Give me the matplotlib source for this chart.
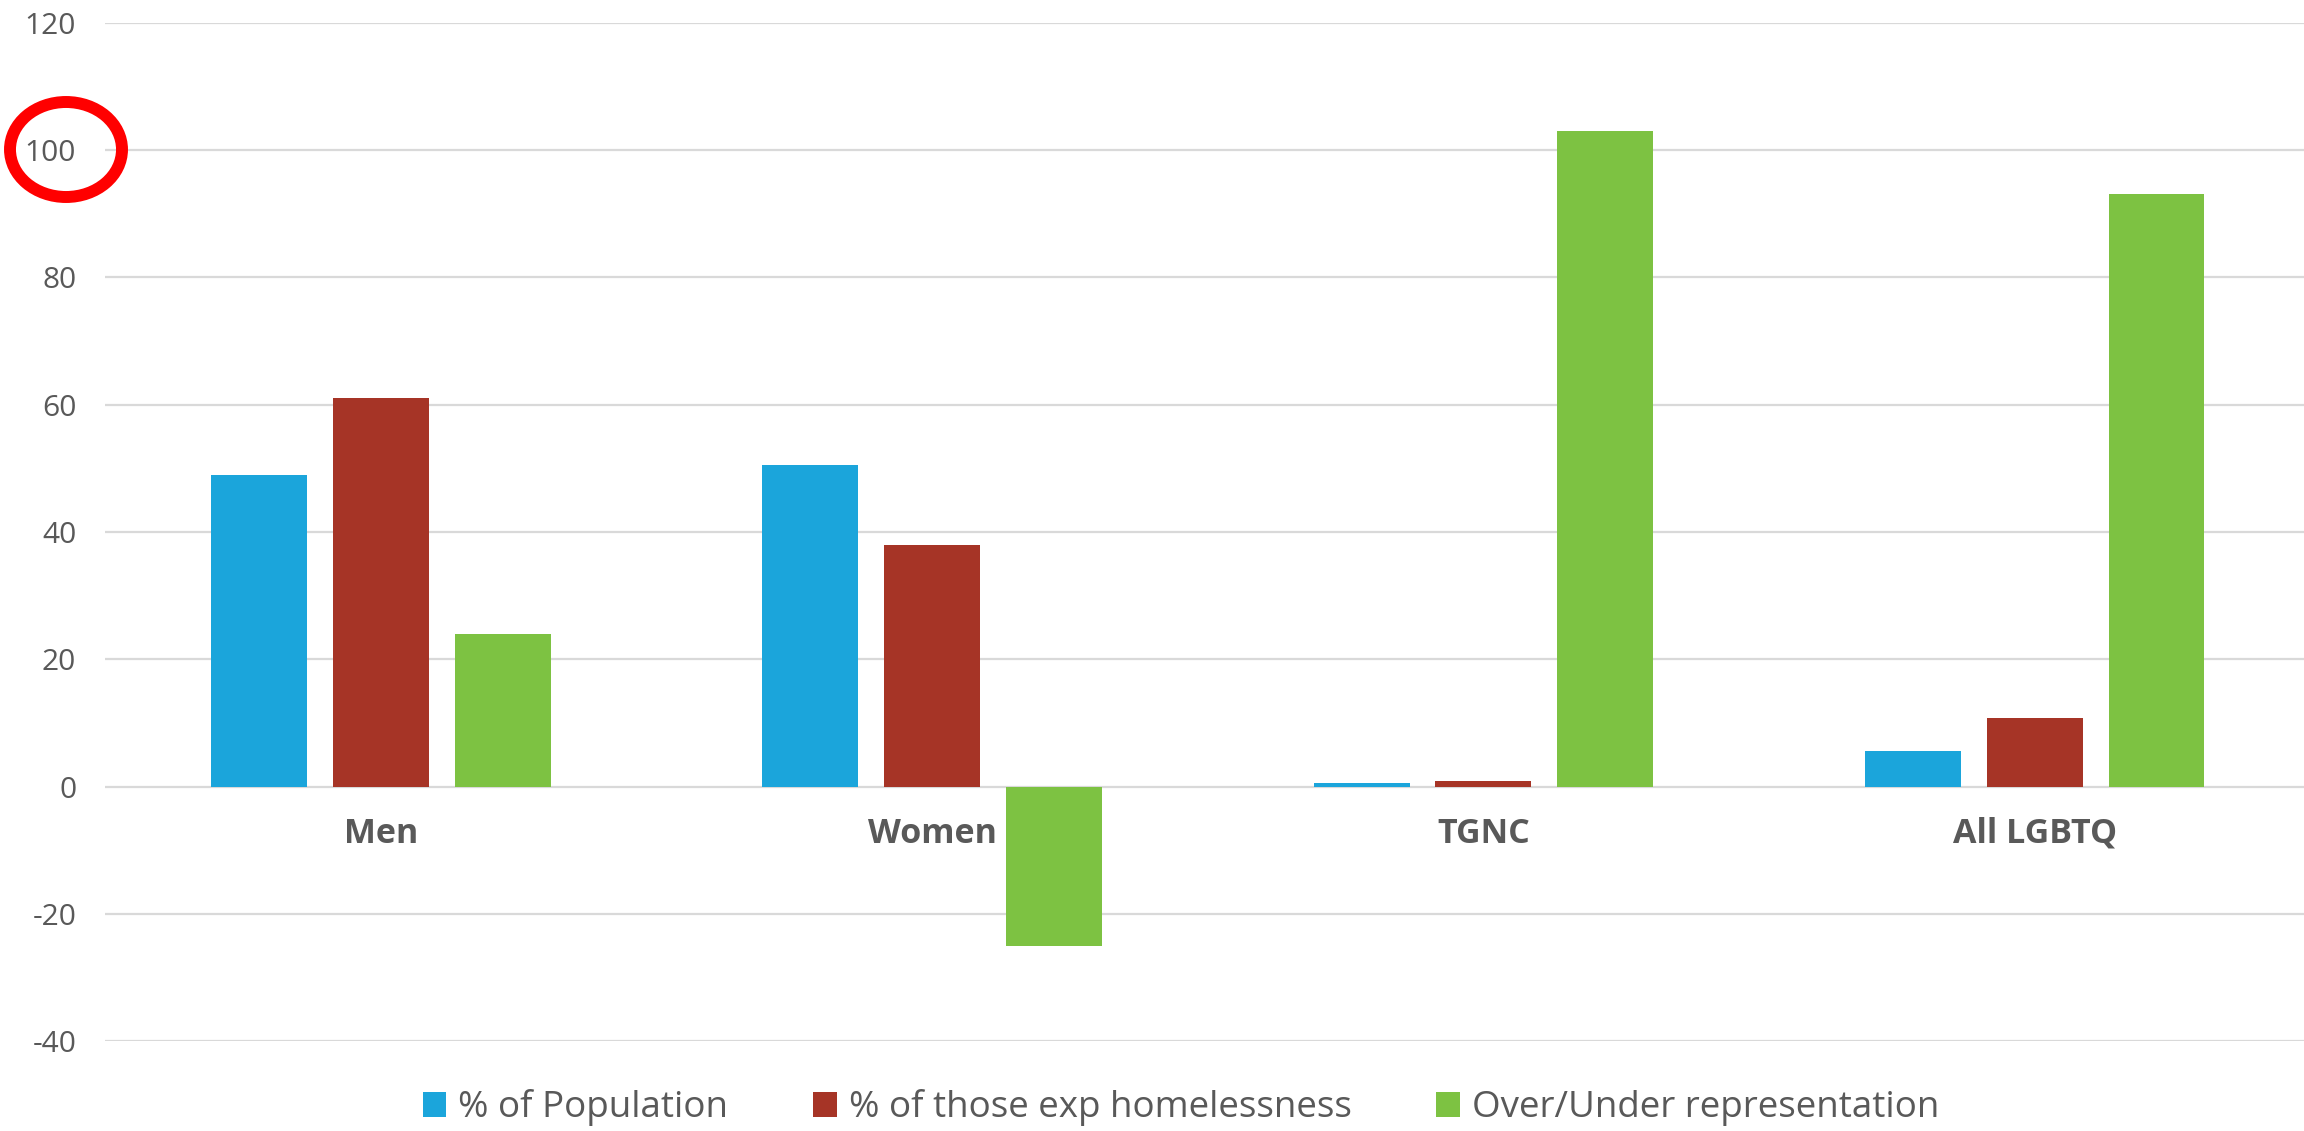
import numpy as np
import matplotlib
matplotlib.use('Agg')
import matplotlib.pyplot as plt
from matplotlib.patches import Ellipse

plt.rcParams['font.family'] = ['Open Sans', 'DejaVu Sans']

# data
categories = ['Men', 'Women', 'TGNC', 'All LGBTQ']
pct_population = [49.0, 50.5, 0.6, 5.6]
pct_homeless = [61.0, 38.0, 0.85, 10.8]
over_under = [24.0, -25.0, 103.0, 93.2]
series_names = ['% of Population', '% of those exp homelessness', 'Over/Under representation']
y_ticks = [-40, -20, 0, 20, 40, 60, 80, 100, 120]

colors = ['#1BA5DB', '#A63426', '#7DC242']
text_col = '#595959'

fig = plt.figure(figsize=(23.04, 11.31), dpi=100)
ax = fig.add_axes([105.3 / 2304, 1 - 1041 / 1131, 2205 / 2304, (1041 - 23) / 1131])

x = np.arange(len(categories))
w = 0.174
step = 0.221
for i, vals in enumerate([pct_population, pct_homeless, over_under]):
    ax.bar(x + (i - 1) * step, vals, width=w, color=colors[i], label=series_names[i], zorder=3)

ax.set_xlim(-0.5, len(categories) - 0.5)
ax.set_ylim(-40, 120)
ax.set_yticks(y_ticks)
ax.set_yticklabels([str(t) for t in y_ticks], fontsize=21.5, color=text_col)
ax.tick_params(axis='y', length=0, pad=21)
ax.yaxis.grid(True, color='#D9D9D9', linewidth=1.6, zorder=0)
for s in ax.spines.values():
    s.set_visible(False)

# category labels just under the zero line
ax.set_xticks(x)
ax.set_xticklabels([])
ax.tick_params(axis='x', length=0)
for i, c in enumerate(categories):
    ax.text(i, -7.4, c, ha='center', va='center', fontsize=24.5, fontweight='bold', color=text_col)

leg = fig.legend(loc='center', bbox_to_anchor=(1181 / 2304, 1 - 1108 / 1131), ncol=3, frameon=False,
                 fontsize=26.5, handlelength=0.64, handleheight=0.64, handletextpad=0.33,
                 columnspacing=2.3, labelcolor=text_col)

# red circle around the 100 label
fig.patches.append(Ellipse((66 / 2304, 1 - 149.5 / 1131), 112 / 2304, 95 / 1131,
                           transform=fig.transFigure, fill=False, edgecolor='#FF0000', linewidth=8.6))

fig.savefig('out.png', dpi=100)
